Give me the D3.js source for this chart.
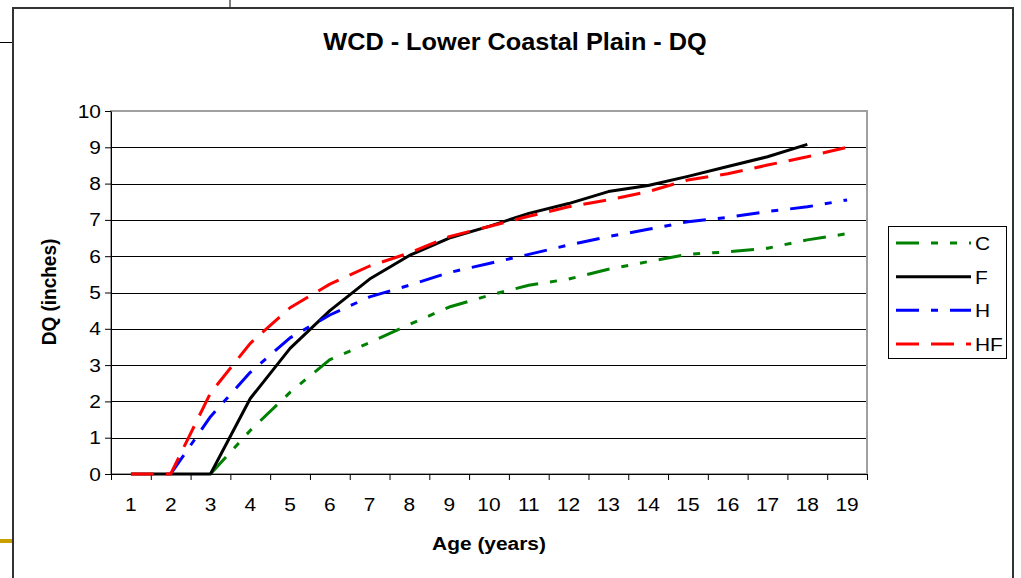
<!DOCTYPE html>
<html>
<head>
<meta charset="utf-8">
<script src="https://cdn.jsdelivr.net/npm/d3@7"></script>
<style>
  body { margin: 0; background: #fff; }
  text { font-family: "Liberation Sans", Arial, sans-serif; fill: #000; }
</style>
</head>
<body>
<script>
const width = 1021;
const height = 578;

// plot area
const plotLeft = 111;
const plotRight = 867;
const plotTop = 111;
const plotBottom = 474;

// text in the source looks stretched sideways a bit
const sx = 1.1;

const ages = [1, 2, 3, 4, 5, 6, 7, 8, 9, 10, 11, 12, 13, 14, 15, 16, 17, 18, 19];
const seriesNames = ["C", "F", "H", "HF"];
const valuesC  = [null, null, 0, 1.2, 2.25, 3.15, 3.62, 4.12, 4.6, 4.92, 5.2, 5.37, 5.64, 5.85, 6.05, 6.12, 6.22, 6.45, 6.62];
const valuesF  = [0, 0, 0, 2.08, 3.46, 4.5, 5.37, 6.02, 6.5, 6.82, 7.18, 7.45, 7.78, 7.95, 8.2, 8.47, 8.74, 9.08, null];
const valuesH  = [null, 0, 1.58, 2.8, 3.75, 4.38, 4.88, 5.2, 5.55, 5.8, 6.05, 6.31, 6.54, 6.74, 6.95, 7.07, 7.23, 7.36, 7.55];
const valuesHF = [0, 0, 2.23, 3.6, 4.58, 5.23, 5.73, 6.09, 6.54, 6.82, 7.1, 7.36, 7.55, 7.78, 8.1, 8.27, 8.51, 8.74, 9.0];
const yTicks = [0, 1, 2, 3, 4, 5, 6, 7, 8, 9, 10];

const series = [
  {name: "C",  values: valuesC,  color: "#008000", dash: "23,12,7,12,7,12"},
  {name: "F",  values: valuesF,  color: "#000000", dash: null},
  {name: "H",  values: valuesH,  color: "#0000ff", dash: "23,12,7,12"},
  {name: "HF", values: valuesHF, color: "#ff0000", dash: "23,12"}
];

const svg = d3.select("body").append("svg")
  .attr("width", width)
  .attr("height", height)
  .attr("viewBox", [0, 0, width, height]);

function label(txt, x, y, size, weight, anchor) {
  return svg.append("text")
    .attr("transform", `translate(${x},${y}) scale(${sx},1)`)
    .attr("text-anchor", anchor)
    .style("font-size", size + "px")
    .style("font-weight", weight)
    .text(txt);
}

// slide bits around the chart
svg.append("line").attr("x1", 230).attr("x2", 230).attr("y1", 0).attr("y2", 8).attr("stroke", "#000");
svg.append("line").attr("x1", 0).attr("x2", 13).attr("y1", 42.5).attr("y2", 42.5).attr("stroke", "#000");
svg.append("line").attr("x1", 0).attr("x2", 13).attr("y1", 541).attr("y2", 541).attr("stroke", "#c9a000").attr("stroke-width", 4);

// chart area border
svg.append("path")
  .attr("d", "M13,580 V8 H1013 V580")
  .attr("fill", "none")
  .attr("stroke", "#333")
  .attr("stroke-width", 2);

const x = d3.scaleBand()
  .domain(ages)
  .range([plotLeft, plotRight]);

const xEdge = d3.scaleLinear()
  .domain([0, ages.length])
  .range([plotLeft, plotRight]);

const y = d3.scaleLinear()
  .domain([0, 10])
  .range([plotBottom, plotTop]);

// gridlines
svg.append("g")
  .selectAll("line")
  .data(yTicks.filter(d => d > 0 && d < 10))
  .join("line")
    .attr("x1", plotLeft)
    .attr("x2", plotRight)
    .attr("y1", d => Math.round(y(d)) + 0.5)
    .attr("y2", d => Math.round(y(d)) + 0.5)
    .attr("stroke", "#000")
    .attr("stroke-width", 1);

// plot border
svg.append("rect")
  .attr("x", plotLeft)
  .attr("y", plotTop)
  .attr("width", plotRight - plotLeft)
  .attr("height", plotBottom - plotTop)
  .attr("fill", "none")
  .attr("stroke", "#a0a0a0")
  .attr("stroke-width", 2);

// y axis
const yAxis = svg.append("g")
  .attr("transform", `translate(${plotLeft},0)`)
  .call(d3.axisLeft(y).tickValues(yTicks).tickSize(6).tickSizeOuter(0));
yAxis.select(".domain").attr("stroke", "#000");
yAxis.selectAll("text")
  .attr("x", 0)
  .attr("transform", `translate(-10,0) scale(${sx},1)`)
  .style("font-size", "19px");

// x axis: ticks between categories, labels in the middle
const xTickAxis = svg.append("g")
  .attr("transform", `translate(0,${plotBottom})`)
  .call(d3.axisBottom(xEdge).tickValues(d3.range(0, ages.length + 1)).tickFormat("").tickSize(6).tickSizeOuter(0));
xTickAxis.select(".domain").attr("stroke", "#000");

const xLabelAxis = svg.append("g")
  .attr("transform", `translate(0,${plotBottom})`)
  .call(d3.axisBottom(x).tickSize(0));
xLabelAxis.select(".domain").remove();
xLabelAxis.selectAll("text")
  .attr("y", 0)
  .attr("dy", "0")
  .attr("transform", `translate(0,37) scale(${sx},1)`)
  .style("font-size", "19px");

// lines
const line = d3.line()
  .defined(d => d != null)
  .x((d, i) => x(ages[i]) + x.bandwidth() / 2)
  .y(d => y(d));

series.forEach(s => {
  svg.append("path")
    .datum(s.values)
    .attr("fill", "none")
    .attr("stroke", s.color)
    .attr("stroke-width", 3)
    .attr("stroke-linejoin", "round")
    .attr("stroke-dasharray", s.dash)
    .attr("d", line);
});

// titles
label("WCD - Lower Coastal Plain - DQ", 515, 50, 23, "bold", "middle");
label("Age (years)", 489, 550, 19, "bold", "middle");
svg.append("text")
  .attr("transform", `translate(56,292) scale(${sx},1) rotate(-90)`)
  .attr("text-anchor", "middle")
  .style("font-size", "19px")
  .style("font-weight", "bold")
  .text("DQ (inches)");

// legend
const legend = svg.append("g");
legend.append("rect")
  .attr("x", 888.5)
  .attr("y", 226.5)
  .attr("width", 118)
  .attr("height", 132)
  .attr("fill", "#fff")
  .attr("stroke", "#000");

const legendY = d3.scalePoint()
  .domain(seriesNames)
  .range([243, 344]);

series.forEach(s => {
  const ly = legendY(s.name);
  legend.append("line")
    .attr("x1", 896)
    .attr("x2", 971)
    .attr("y1", ly)
    .attr("y2", ly)
    .attr("stroke", s.color)
    .attr("stroke-width", 3)
    .attr("stroke-dasharray", s.dash);
  legend.append("text")
    .attr("transform", `translate(975,${ly + 7}) scale(${sx},1)`)
    .style("font-size", "19px")
    .text(s.name);
});
</script>
</body>
</html>
